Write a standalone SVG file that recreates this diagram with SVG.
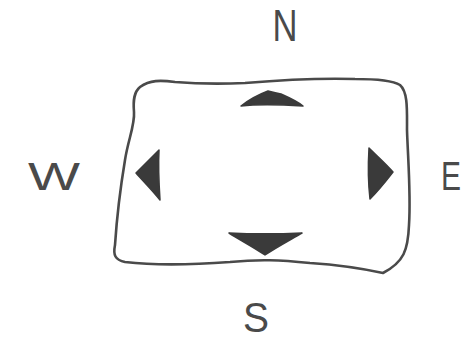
<svg xmlns="http://www.w3.org/2000/svg" width="468" height="342" viewBox="0 0 468 342">
<style>
.frame{fill:none;stroke:#4a4a4a;stroke-width:2.6;stroke-linejoin:round;stroke-linecap:round}
.arrow{fill:#3a3a3a;stroke:#3a3a3a;stroke-width:1.5;stroke-linejoin:round}
.lbl{font-family:"Liberation Sans",Arial,sans-serif;fill:#4a4a4a;text-anchor:middle}
</style>
<rect width="468" height="342" fill="#ffffff"/>
<g id="frame">
<path class="frame" d="M140,87 C150,80 160,80 175,82 C200,84 220,84 245,83 C280,80 320,78 355,79 C375,79 392,80 400,85 C408,92 407,110 407,130 C408,160 411,195 409,225 C408,250 404,262 383,273 C360,268 340,265 310,263 C280,260 260,259 230,262 C190,265 150,265 125,262 C115,260 113,255 115,245 C117,215 120,190 125,160 C128,140 135,125 134,112 C133,100 134,92 140,87 Z"/>
</g>
<g id="arrows">
<path id="arrow-n" class="arrow" d="M241,106 C250,99 260,94 268,91 C272,92 276,93 281,94 C290,98 298,102 303,106 C285,105 260,104 241,106 Z"/>
<path id="arrow-s" class="arrow" d="M229,233 C250,234 280,234 302,233 C290,240 275,248 265,255 C255,248 240,240 229,233 Z"/>
<path id="arrow-w" class="arrow" d="M159,150 C158,168 159,185 160,200 C152,190 143,181 136,173 C144,165 152,157 159,150 Z"/>
<path id="arrow-e" class="arrow" d="M369,148 C377,156 386,164 393,172 C386,181 378,191 370,199 C368,182 368,165 369,148 Z"/>
</g>
<g id="label-n"><text class="lbl" x="285" y="41" font-size="44" textLength="25" lengthAdjust="spacingAndGlyphs">N</text></g>
<g id="label-w"><text class="lbl" x="54" y="190" font-size="38" textLength="52" lengthAdjust="spacingAndGlyphs">W</text></g>
<g id="label-e"><text class="lbl" x="451" y="190" font-size="40" textLength="20" lengthAdjust="spacingAndGlyphs">E</text></g>
<g id="label-s"><text class="lbl" x="256" y="332" font-size="42" textLength="26" lengthAdjust="spacingAndGlyphs">S</text></g>
</svg>
